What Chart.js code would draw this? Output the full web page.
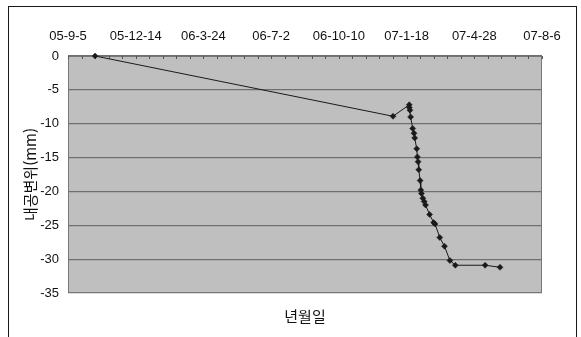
<!DOCTYPE html>
<html lang="ko">
<head>
    <meta charset="UTF-8">
    <title>내공변위</title>
    <style>
        body {
            margin: 0;
            background: #fff;
        }

        #wrap {
            position: relative;
            width: 581px;
            height: 337px;
            overflow: hidden;
        }

        /* outer frame, open at the bottom like the scan */
        #frame {
            position: absolute;
            left: 8px;
            top: 6px;
            width: 567px;
            height: 360px;
            border: 1.5px solid #1a1a1a;
            border-bottom: none;
        }

        #chart {
            position: absolute;
            left: 0;
            top: 0;
        }
    </style>
</head>
<body>
    <div id="wrap">
        <div id="frame"></div>
        <canvas id="chart" width="581" height="337"></canvas>
    </div>

    <script src="https://cdn.jsdelivr.net/npm/chart.js"></script>
    <script>
        // measurement dates and convergence displacement (mm)
        const measureDates = [
            '2005-10-15', '2006-12-29', '2007-01-22', '2007-01-22', '2007-01-23',
            '2007-01-24', '2007-01-27', '2007-01-29', '2007-01-30', '2007-02-02',
            '2007-02-03', '2007-02-04', '2007-02-05', '2007-02-07', '2007-02-08',
            '2007-02-09', '2007-02-11', '2007-02-13', '2007-02-15', '2007-02-21',
            '2007-02-27', '2007-03-01', '2007-03-08', '2007-03-15', '2007-03-23',
            '2007-03-31', '2007-05-14', '2007-06-05'
        ];
        const displacement = [
            0, -8.9, -7.2, -7.6, -8.0,
            -9.0, -10.7, -11.4, -12.1, -13.7,
            -14.9, -15.6, -16.8, -18.4, -19.8,
            -20.3, -21.0, -21.5, -22.0, -23.4,
            -24.6, -24.8, -26.8, -28.1, -30.2,
            -30.9, -30.9, -31.2
        ];

        // date axis: starts 05-9-5, labels every 100 days, minor marks every 20
        const axisStart = '2005-09-05';
        const xTickLabels = ['05-9-5', '05-12-14', '06-3-24', '06-7-2', '06-10-10', '07-1-18', '07-4-28', '07-8-6'];
        const majorDays = 100;
        const minorDays = 20;
        const yMin = -35;
        const yMax = 0;
        const yStep = 5;

        function dayOffset(s) {
            const [y, m, d] = s.split('-').map(Number);
            const [y0, m0, d0] = axisStart.split('-').map(Number);
            return (Date.UTC(y, m - 1, d) - Date.UTC(y0, m0 - 1, d0)) / 86400000;
        }

        const points = measureDates.map((d, i) => ({ x: dayOffset(d), y: displacement[i] }));
        const xMax = majorDays * (xTickLabels.length - 1);

        // grey plot area + border + small inside tick marks on the top axis
        const plotArea = {
            id: 'plotArea',
            beforeDraw(chart) {
                const { ctx, chartArea: a } = chart;
                ctx.save();
                ctx.fillStyle = '#bfbfbf';
                ctx.fillRect(a.left, a.top, a.right - a.left, a.bottom - a.top);
                ctx.restore();
            },
            beforeDatasetsDraw(chart) {
                const { ctx, chartArea: a } = chart;
                const xs = chart.scales.x;
                ctx.save();
                ctx.strokeStyle = '#777';
                ctx.lineWidth = 1;
                ctx.strokeRect(a.left + 0.5, a.top + 0.5, a.right - a.left - 1, a.bottom - a.top - 1);
                ctx.strokeStyle = '#555';
                ctx.beginPath();
                for (let v = 0; v <= xMax; v += minorDays) {
                    const px = Math.round(xs.getPixelForValue(v)) + 0.5;
                    ctx.moveTo(px, a.top);
                    ctx.lineTo(px, a.top + 3);
                }
                ctx.stroke();
                ctx.restore();
            }
        };

        const ctx = document.getElementById('chart').getContext('2d');
        new Chart(ctx, {
            type: 'line',
            data: {
                datasets: [{
                    data: points,
                    clip: 8,
                    borderColor: '#1a1a1a',
                    borderWidth: 1,
                    pointStyle: 'rectRot',
                    pointRadius: 3,
                    pointBackgroundColor: '#1a1a1a',
                    pointBorderColor: '#1a1a1a',
                    pointBorderWidth: 0.5,
                    tension: 0
                }]
            },
            options: {
                responsive: false,
                devicePixelRatio: 1,
                animation: false,
                layout: {
                    padding: { left: 0, right: 39, top: 0, bottom: 0 }
                },
                scales: {
                    x: {
                        type: 'linear',
                        position: 'top',
                        min: 0,
                        max: xMax,
                        afterFit(scale) { scale.height = 56; },
                        grid: { display: false, drawTicks: false },
                        border: { display: false },
                        ticks: {
                            stepSize: majorDays,
                            autoSkip: false,
                            maxRotation: 0,
                            padding: 12,
                            color: '#111',
                            font: { family: 'Liberation Sans, Arial, sans-serif', size: 13 },
                            callback: (v, i) => xTickLabels[i]
                        }
                    },
                    y: {
                        min: yMin,
                        max: yMax,
                        afterFit(scale) { scale.width = 68; },
                        grid: { color: '#6f6f6f', lineWidth: 1.2, drawTicks: false },
                        border: { display: false },
                        ticks: {
                            stepSize: yStep,
                            padding: 9,
                            color: '#111',
                            font: { family: 'Liberation Sans, Arial, sans-serif', size: 13 }
                        },
                        title: {
                            display: true,
                            text: '내공변위(mm)',
                            color: '#111',
                            padding: { top: 21, bottom: 0 },
                            font: { family: 'Noto Sans CJK KR, sans-serif', size: 15 }
                        }
                    }
                },
                plugins: {
                    legend: { display: false },
                    tooltip: { enabled: false },
                    title: {
                        display: true,
                        position: 'bottom',
                        fullSize: false,
                        text: '년월일',
                        color: '#111',
                        padding: { top: 14, bottom: 12 },
                        font: { family: 'Noto Sans CJK KR, sans-serif', size: 15, weight: 'normal' }
                    }
                }
            },
            plugins: [plotArea]
        });
    </script>
</body>
</html>
